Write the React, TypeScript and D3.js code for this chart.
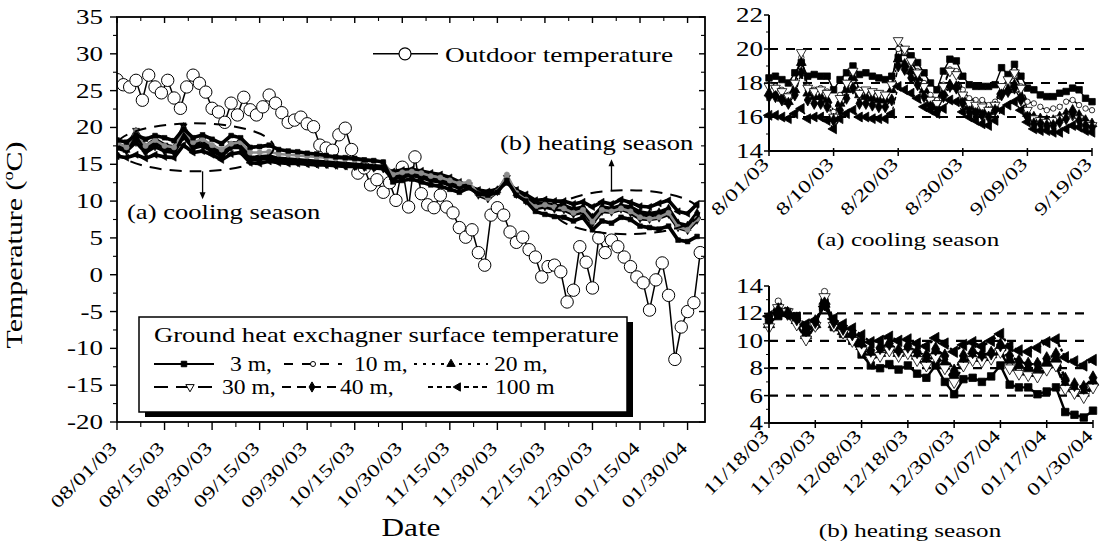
import React from 'react';
import * as d3 from 'd3';

const W = 1105;
const H = 543;
const FONT = '"Liberation Serif","Times New Roman",Times,serif';

// ---------------- Main chart data ----------------
const mainTickLabels = ['08/01/03', '08/15/03', '08/30/03', '09/15/03', '09/30/03', '10/15/03', '10/30/03', '11/15/03', '11/30/03', '12/15/03', '12/30/03', '01/15/04', '01/30/04'];
const mainYTicks = [-20, -15, -10, -5, 0, 5, 10, 15, 20, 25, 30, 35];

// outdoor temperature, one value every 2 days from 08/01/03
const outdoorTemp = [26.5, 25.8, 25.5, 26.4, 23.7, 27.1, 25.5, 24.7, 26.4, 24.0, 22.6, 25.5, 27.1, 26.0, 24.8, 22.6, 22.1, 20.7, 23.3, 21.7, 24.1, 22.4, 21.7, 22.8, 24.4, 23.3, 22.0, 20.7, 21.0, 21.4, 20.5, 20.1, 17.6, 17.2, 16.9, 19.0, 19.9, 17.0, 13.8, 14.5, 12.2, 12.9, 11.2, 12.5, 10.1, 14.6, 9.2, 16.0, 11.0, 9.5, 9.1, 10.8, 9.2, 8.4, 6.4, 5.1, 6.1, 3.0, 1.3, 8.1, 9.1, 8.1, 5.8, 4.4, 5.1, 3.4, 2.4, -0.3, 1.1, 1.3, 0.4, -3.7, -2.1, 3.8, 1.7, -1.8, 5.0, 3.0, 4.7, 3.8, 2.4, 1.1, -0.3, -1.1, -4.8, -0.7, 1.6, -2.8, -11.5, -7.1, -5.0, -3.8, 3.0];

// ground heat exchanger surface temperature, one value every 3 days from 08/01/03
const ground3m = [18.3, 18.0, 19.0, 18.4, 18.9, 18.6, 18.2, 19.8, 18.6, 19.0, 18.4, 17.8, 18.9, 18.6, 17.3, 17.4, 17.6, 17.0, 16.8, 16.7, 16.5, 16.4, 16.2, 16.0, 15.9, 15.8, 15.6, 15.5, 15.3, 12.6, 12.8, 13.0, 12.6, 12.2, 12.0, 11.6, 11.2, 11.8, 11.0, 10.8, 11.2, 12.8, 10.8, 10.0, 8.6, 8.2, 7.9, 7.8, 7.3, 7.8, 6.1, 7.3, 7.0, 7.8, 7.5, 6.6, 6.4, 6.2, 6.6, 4.7, 4.5, 5.2];
const ground10m = [17.9, 17.3, 19.5, 17.5, 18.3, 17.5, 17.3, 19.8, 18.0, 18.4, 17.6, 17.0, 17.8, 18.0, 16.6, 16.6, 16.7, 16.4, 16.3, 16.2, 16.1, 16.0, 15.9, 15.8, 15.7, 15.6, 15.5, 15.4, 15.3, 13.6, 13.9, 14.0, 13.8, 13.4, 13.2, 12.8, 12.4, 12.6, 11.0, 10.4, 11.3, 13.6, 11.1, 10.2, 9.2, 9.5, 9.2, 9.0, 8.4, 8.8, 7.2, 8.8, 8.6, 9.0, 8.6, 7.8, 7.6, 7.8, 8.4, 6.5, 6.1, 7.6];
const ground20m = [17.4, 16.9, 18.8, 17.0, 17.9, 17.2, 17.0, 19.1, 17.6, 17.7, 17.0, 16.4, 17.5, 17.5, 15.9, 16.0, 16.1, 15.8, 15.7, 15.6, 15.5, 15.4, 15.3, 15.2, 15.1, 15.0, 14.9, 14.8, 14.7, 13.2, 13.5, 13.6, 13.4, 13.0, 12.8, 12.4, 12.0, 12.1, 11.1, 10.6, 11.4, 12.9, 11.0, 10.3, 9.3, 9.4, 9.2, 9.1, 8.6, 9.0, 7.4, 8.9, 8.8, 9.3, 8.8, 8.2, 8.0, 8.2, 8.7, 6.7, 6.3, 8.0];
const ground30m = [17.8, 17.2, 19.6, 17.4, 18.4, 17.6, 17.3, 20.2, 17.8, 18.3, 17.3, 16.6, 17.8, 18.0, 15.8, 15.9, 15.9, 15.6, 15.5, 15.4, 15.3, 15.2, 15.1, 15.0, 14.9, 14.8, 14.7, 14.6, 14.5, 13.0, 13.3, 13.5, 13.2, 12.8, 12.6, 12.2, 11.8, 12.2, 10.8, 10.3, 11.3, 13.2, 10.9, 10.0, 9.0, 9.2, 8.9, 8.8, 8.2, 8.5, 7.0, 8.6, 8.5, 8.9, 8.4, 7.6, 7.5, 7.7, 8.2, 6.4, 6.0, 7.4];
const ground40m = [17.2, 16.8, 18.0, 16.6, 17.4, 16.8, 16.6, 18.8, 17.2, 17.5, 16.8, 16.1, 17.3, 17.3, 15.6, 15.7, 15.8, 15.5, 15.4, 15.3, 15.2, 15.1, 15.0, 14.9, 14.8, 14.7, 14.6, 14.5, 14.4, 13.4, 13.7, 13.8, 13.6, 13.2, 13.0, 12.6, 12.2, 12.1, 11.3, 11.0, 11.5, 12.7, 11.3, 10.5, 9.6, 9.7, 9.4, 9.4, 8.9, 9.2, 7.8, 9.2, 9.0, 9.4, 9.2, 8.5, 8.3, 8.5, 9.0, 7.0, 6.7, 8.4];
const ground100m = [16.1, 15.9, 16.3, 15.8, 16.3, 16.0, 15.9, 17.6, 16.6, 16.8, 16.3, 15.6, 16.4, 16.6, 15.2, 15.1, 15.4, 15.2, 15.1, 15.1, 15.0, 14.9, 14.9, 14.8, 14.7, 14.7, 14.6, 14.6, 14.5, 14.0, 14.2, 14.3, 14.1, 13.8, 13.6, 13.2, 12.6, 12.0, 11.5, 11.3, 11.6, 12.5, 11.5, 10.9, 10.1, 10.2, 10.0, 10.0, 9.6, 9.9, 9.2, 9.9, 9.6, 10.2, 9.8, 9.3, 9.2, 9.7, 10.1, 8.6, 8.3, 9.6];

// ---------------- (a) cooling season ----------------
const coolTickLabels = ['8/01/03', '8/10/03', '8/20/03', '8/30/03', '9/09/03', '9/19/03'];
const coolYTicks = [14, 16, 18, 20, 22];
const coolGrid = [16, 18, 20];
const cool3m = [18.3, 18.4, 18.2, 18.0, 18.6, 19.2, 18.4, 18.5, 18.4, 18.4, 17.6, 18.2, 18.6, 19.0, 18.5, 18.6, 18.4, 18.3, 18.2, 18.4, 19.5, 19.8, 19.6, 19.2, 18.6, 18.0, 17.6, 18.7, 19.4, 19.3, 18.4, 17.9, 17.8, 17.8, 17.8, 17.9, 18.9, 18.5, 19.1, 18.4, 17.7, 17.6, 17.3, 17.2, 17.2, 17.4, 17.5, 17.7, 17.6, 17.1, 16.9];
const cool10m = [17.9, 17.8, 17.6, 17.3, 18.0, 19.5, 17.8, 17.6, 17.7, 17.5, 16.3, 17.3, 18.0, 18.6, 17.6, 17.5, 17.4, 17.4, 17.3, 17.8, 20.0, 19.8, 19.2, 18.7, 18.0, 17.3, 17.0, 17.9, 18.8, 18.7, 17.6, 17.1, 17.0, 17.0, 16.7, 16.9, 17.8, 18.0, 18.4, 17.8, 16.9, 16.8, 16.6, 16.4, 16.5, 16.6, 16.9, 17.0, 16.7, 16.5, 16.4];
const cool20m = [17.4, 17.3, 17.1, 16.9, 17.6, 19.2, 17.4, 17.2, 17.2, 17.0, 15.9, 16.8, 17.6, 18.3, 17.3, 17.2, 17.1, 17.0, 17.0, 17.6, 19.4, 19.1, 18.7, 18.3, 17.6, 16.8, 16.6, 17.4, 17.9, 17.8, 17.0, 16.6, 16.4, 16.4, 16.3, 16.6, 17.5, 17.6, 17.9, 17.2, 16.2, 16.0, 15.9, 15.8, 15.8, 16.0, 16.2, 16.4, 16.1, 15.8, 15.6];
const cool30m = [17.8, 17.7, 17.5, 17.2, 18.0, 19.8, 17.7, 17.5, 17.6, 17.4, 16.0, 17.1, 18.0, 18.7, 17.4, 17.6, 17.5, 17.4, 17.3, 17.9, 20.5, 20.0, 19.3, 18.6, 17.8, 17.0, 16.8, 17.8, 18.7, 18.5, 17.3, 16.8, 16.7, 16.6, 16.4, 16.7, 17.8, 18.2, 18.6, 17.7, 16.4, 15.9, 15.8, 15.7, 15.8, 15.9, 16.0, 16.1, 15.9, 15.6, 15.5];
const cool40m = [17.2, 17.2, 17.0, 16.8, 17.3, 18.6, 17.0, 16.8, 16.8, 16.6, 15.8, 16.4, 17.1, 17.7, 16.8, 16.8, 16.7, 16.6, 16.6, 17.0, 19.0, 18.8, 18.3, 17.9, 17.2, 16.6, 16.3, 17.2, 17.8, 17.7, 16.8, 16.3, 16.2, 16.1, 16.0, 16.4, 17.3, 17.5, 17.7, 17.0, 16.0, 15.6, 15.6, 15.5, 15.5, 15.7, 15.9, 16.2, 15.8, 15.5, 15.4];
const cool100m = [16.1, 16.1, 16.0, 15.9, 16.2, 16.5, 15.9, 16.0, 16.0, 15.8, 15.3, 15.9, 16.2, 16.4, 16.0, 16.0, 15.9, 15.9, 15.9, 16.2, 17.8, 17.6, 17.4, 17.1, 16.6, 16.4, 16.2, 16.5, 17.0, 16.9, 16.3, 16.0, 15.8, 15.6, 15.5, 15.8, 16.4, 16.7, 16.9, 16.4, 15.7, 15.3, 15.2, 15.2, 15.1, 15.1, 15.3, 15.5, 15.4, 15.2, 15.1];

// ---------------- (b) heating season ----------------
const heatTickLabels = ['11/18/03', '11/30/03', '12/08/03', '12/18/03', '12/30/03', '01/07/04', '01/17/04', '01/30/04'];
const heatYTicks = [4, 6, 8, 10, 12, 14];
const heatGrid = [6, 8, 10, 12];
const heat3m = [11.3, 11.8, 12.1, 11.8, 10.6, 11.2, 12.8, 11.0, 10.5, 10.0, 9.0, 8.2, 8.0, 8.3, 7.9, 8.2, 7.6, 7.3, 8.2, 7.0, 6.1, 7.2, 7.3, 7.0, 7.4, 8.2, 6.8, 6.6, 6.6, 6.1, 6.3, 6.6, 4.8, 4.6, 4.4, 4.9];
const heat10m = [11.5, 12.9, 12.2, 11.4, 10.2, 11.0, 13.6, 11.3, 10.8, 10.2, 9.5, 8.9, 9.2, 9.6, 9.2, 9.3, 8.8, 8.4, 9.0, 8.2, 7.2, 8.4, 8.8, 8.6, 8.8, 9.3, 8.2, 7.8, 7.6, 7.5, 8.0, 8.4, 6.6, 6.3, 6.0, 6.8];
const heat20m = [11.2, 12.3, 12.0, 11.5, 10.4, 11.2, 12.9, 11.2, 10.7, 10.3, 9.6, 9.0, 9.1, 9.5, 9.1, 9.4, 8.9, 8.6, 9.2, 8.4, 7.4, 8.6, 8.9, 8.8, 9.0, 9.6, 8.6, 8.2, 8.0, 7.9, 8.4, 8.7, 6.8, 6.5, 6.2, 7.0];
const heat30m = [11.0, 12.4, 12.1, 11.2, 10.1, 11.1, 13.2, 11.1, 10.6, 10.0, 9.3, 8.7, 8.9, 9.3, 8.9, 9.1, 8.6, 8.2, 8.8, 8.0, 7.0, 8.2, 8.6, 8.5, 8.7, 9.2, 8.0, 7.6, 7.5, 7.4, 7.9, 8.2, 6.5, 6.2, 5.9, 6.6];
const heat40m = [11.6, 12.2, 12.0, 11.6, 10.8, 11.4, 12.7, 11.4, 10.9, 10.5, 9.9, 9.3, 9.5, 9.8, 9.3, 9.6, 9.2, 8.9, 9.4, 8.9, 7.8, 8.9, 9.2, 9.0, 9.1, 9.7, 8.9, 8.5, 8.3, 8.3, 8.7, 9.0, 7.2, 6.8, 6.6, 7.3];
const heat100m = [11.8, 12.0, 11.9, 11.7, 11.2, 11.5, 12.5, 11.6, 11.2, 10.9, 10.4, 9.9, 10.0, 10.3, 10.0, 10.1, 9.8, 9.6, 10.2, 9.8, 9.2, 9.7, 9.9, 9.6, 10.0, 10.5, 9.6, 9.3, 9.2, 9.5, 9.9, 10.1, 8.8, 8.5, 8.2, 8.6];

// ---------------- series styles ----------------
type St = { label: string; sym: any; rot: number; filled: boolean; dash: string; legDash: string };
const STYLES: St[] = [
  { label: '3 m,', sym: d3.symbolSquare, rot: 0, filled: true, dash: '', legDash: '' },
  { label: '10 m,', sym: d3.symbolCircle, rot: 0, filled: false, dash: '6 4', legDash: '9 9' },
  { label: '20 m,', sym: d3.symbolTriangle, rot: 0, filled: true, dash: '2 3', legDash: '3 6' },
  { label: '30 m,', sym: d3.symbolTriangle, rot: 180, filled: false, dash: '9 3', legDash: '14 8' },
  { label: '40 m,', sym: d3.symbolDiamond, rot: 0, filled: true, dash: '5 3', legDash: '9 6' },
  { label: '100 m', sym: d3.symbolTriangle, rot: -90, filled: true, dash: '3 2', legDash: '5 4' },
];

function Txt({ x, y, size, sx = 1.33, anchor = 'start', rot = 0, children }: any) {
  return (
    <text transform={`translate(${x},${y}) rotate(${rot}) scale(${sx},1)`} fontSize={size} textAnchor={anchor} fontFamily={FONT} fill="#000">
      {children}
    </text>
  );
}

function Marker({ x, y, st, size, sw = 0.8 }: any) {
  const d = d3.symbol().type(st.sym).size(size)() || '';
  return <path d={d} transform={`translate(${x},${y}) rotate(${st.rot})`} fill={st.filled ? '#000' : '#fff'} stroke="#000" strokeWidth={sw} />;
}

function SmallChart({ series, xS, yS, yTicks, grid, labels, labelStep, caption, capX, capY, msize, lw }: any) {
  const [x0, x1] = xS.range();
  const [yb, yt] = yS.range();
  const [lo, hi] = yS.domain();
  const minor = d3.range(lo + 1, hi, 2);
  const lastIdx = series[0].length - 1;
  return (
    <g>
      {grid.map((g: number) => (
        <line key={'g' + g} x1={xS(0)} x2={xS(lastIdx - 0.5)} y1={yS(g)} y2={yS(g)} stroke="#000" strokeWidth={2.2} strokeDasharray="9 8" />
      ))}
      {series.map((vals: number[], si: number) => {
        const line = d3.line<number>().x((_, i) => xS(i)).y((v) => yS(v));
        return <path key={'l' + si} d={line(vals) || ''} fill="none" stroke="#000" strokeWidth={lw} strokeDasharray={STYLES[si].dash} />;
      })}
      {series.map((vals: number[], si: number) => (
        <g key={'m' + si}>
          {vals.map((v, i) => (
            <Marker key={i} x={xS(i)} y={yS(v)} st={STYLES[si]} size={STYLES[si].sym === d3.symbolCircle ? msize * 0.55 : msize} />
          ))}
        </g>
      ))}
      <line x1={x0} x2={x0} y1={yb + 1} y2={yt} stroke="#000" strokeWidth={2} />
      <line x1={x0 - 1} x2={x1} y1={yb} y2={yb} stroke="#000" strokeWidth={2} />
      {yTicks.map((t: number) => (
        <g key={'yt' + t}>
          <line x1={x0 - 5} x2={x0} y1={yS(t)} y2={yS(t)} stroke="#000" strokeWidth={1.5} />
          <Txt x={x0 - 6} y={yS(t) + 7} size={20} sx={1.35} anchor="end">{String(t)}</Txt>
        </g>
      ))}
      {minor.map((t: number) => (
        <line key={'ym' + t} x1={x0 - 3} x2={x0} y1={yS(t)} y2={yS(t)} stroke="#000" strokeWidth={1} />
      ))}
      {labels.map((lab: string, k: number) => (
        <g key={'xt' + k}>
          <line x1={xS(k * labelStep)} x2={xS(k * labelStep)} y1={yb - 3} y2={yb + 5} stroke="#000" strokeWidth={1.5} />
          <Txt x={xS(k * labelStep) + 1} y={yb + 14} size={18} sx={1.33} anchor="end" rot={-45}>{lab}</Txt>
        </g>
      ))}
      <Txt x={capX} y={capY} size={19} sx={1.32} anchor="middle">{caption}</Txt>
    </g>
  );
}

export default function App() {
  // main chart scales
  const xM = d3.scaleLinear().domain([0, 185.5]).range([117, 705]);
  const yM = d3.scaleLinear().domain([-20, 35]).range([422, 17]);
  const [mx0, mx1] = xM.range();
  const [my0, my1] = yM.range();
  const majorX = mainTickLabels.map((_, k) => k * 15);
  const minorX = d3.range(0, 12).map((k) => k * 15 + 7.5);
  const minorY = d3.range(-17.5, 35, 5);

  const groundSeries = [ground3m, ground10m, ground20m, ground30m, ground40m, ground100m];
  const drawOrder = [5, 4, 3, 2, 1, 0];
  const outdoorLine = d3.line<number>().x((_, i) => xM(i * 2)).y((v) => yM(v));

  // small charts scales
  const xC = d3.scaleLinear().domain([0, 50]).range([769, 1092]);
  const yC = d3.scaleLinear().domain([14, 22]).range([151, 15]);
  const xHt = d3.scaleLinear().domain([0, 35]).range([769, 1093]);
  const yHt = d3.scaleLinear().domain([4, 14]).range([423, 286]);

  // annotation geometry anchored to data scales
  const ellA = { cx: xM(24.5), cy: yM(17.3), rx: xM(25) - xM(0), ry: 24 };
  const ellB = { cx: xM(161), cy: yM(8.5), rx: xM(22.7) - xM(0), ry: 22 };
  const arrA = xM(27);
  const arrB = xM(156);

  const legendItems = [
    { si: 0, a: 154, b: 214, m: 184, tx: 230, y: 364 },
    { si: 1, a: 284, b: 342, m: 313, tx: 354, y: 364 },
    { si: 2, a: 414, b: 488, m: 451, tx: 494, y: 364 },
    { si: 3, a: 154, b: 214, m: 190, tx: 222, y: 387 },
    { si: 4, a: 282, b: 336, m: 312, tx: 340, y: 387 },
    { si: 5, a: 428, b: 490, m: 458, tx: 495, y: 387 },
  ];

  return (
    <svg width={W} height={H} viewBox={`0 0 ${W} ${H}`} style={{ position: 'absolute', left: 0, top: 0, background: '#fff' }}>
      <defs>
        <clipPath id="mainClip">
          <rect x={mx0} y={my1} width={mx1 - mx0} height={my0 - my1} />
        </clipPath>
      </defs>
      <rect x={0} y={0} width={W} height={H} fill="#fff" />

      {/* ---------- main chart data ---------- */}
      <g clipPath="url(#mainClip)">
        <path d={outdoorLine(outdoorTemp) || ''} fill="none" stroke="#000" strokeWidth={1.5} />
        {outdoorTemp.map((v, i) => (
          <circle key={'o' + i} cx={xM(i * 2)} cy={yM(v)} r={6.2} fill="#fff" stroke="#000" strokeWidth={1} />
        ))}
        {drawOrder.map((si) => {
          const vals = groundSeries[si];
          const line = d3.line<number>().x((_, i) => xM(i * 3)).y((v) => yM(v));
          const col = si === 1 ? '#8c8c8c' : '#000';
          return (
            <g key={'gs' + si}>
              <path d={line(vals) || ''} fill="none" stroke={col} strokeWidth={si === 1 ? 2.6 : 3.6} />
              {vals.map((v, i) => (
                <path key={i} d={d3.symbol().type(STYLES[si].sym).size(22)() || ''} transform={`translate(${xM(i * 3)},${yM(v)}) rotate(${STYLES[si].rot})`} fill={col} stroke={col} strokeWidth={0.6} />
              ))}
            </g>
          );
        })}
        {/* season ellipses */}
        <ellipse cx={ellA.cx} cy={ellA.cy} rx={ellA.rx} ry={ellA.ry} fill="none" stroke="#000" strokeWidth={2} strokeDasharray="12 8" />
        <ellipse cx={ellB.cx} cy={ellB.cy} rx={ellB.rx} ry={ellB.ry} fill="none" stroke="#000" strokeWidth={2} strokeDasharray="12 8" />
      </g>

      {/* arrows */}
      <line x1={arrA} x2={arrA} y1={ellA.cy + ellA.ry} y2={ellA.cy + ellA.ry + 24} stroke="#000" strokeWidth={1.3} />
      <path d={`M${arrA - 3},${ellA.cy + ellA.ry + 21} L${arrA + 3},${ellA.cy + ellA.ry + 21} L${arrA},${ellA.cy + ellA.ry + 28} Z`} fill="#000" />
      <line x1={arrB} x2={arrB} y1={ellB.cy - ellB.ry} y2={ellB.cy - ellB.ry - 27} stroke="#000" strokeWidth={1.3} />
      <path d={`M${arrB - 3},${ellB.cy - ellB.ry - 24} L${arrB + 3},${ellB.cy - ellB.ry - 24} L${arrB},${ellB.cy - ellB.ry - 31} Z`} fill="#000" />
      <Txt x={127} y={219} size={20} sx={1.33}>(a) cooling season</Txt>
      <Txt x={500} y={150} size={20} sx={1.33}>(b) heating season</Txt>

      {/* main frame and ticks */}
      <rect x={mx0} y={my1} width={mx1 - mx0} height={my0 - my1} fill="none" stroke="#000" strokeWidth={1.8} />
      {mainYTicks.map((t) => (
        <g key={'my' + t}>
          <line x1={mx0 - 7} x2={mx0} y1={yM(t)} y2={yM(t)} stroke="#000" strokeWidth={1.4} />
          <line x1={mx1 - 6} x2={mx1} y1={yM(t)} y2={yM(t)} stroke="#000" strokeWidth={1.4} />
          <Txt x={103} y={yM(t) + 7} size={20} sx={1.35} anchor="end">{String(t)}</Txt>
        </g>
      ))}
      {minorY.map((t) => (
        <g key={'mym' + t}>
          <line x1={mx0 - 4} x2={mx0} y1={yM(t)} y2={yM(t)} stroke="#000" strokeWidth={1.1} />
          <line x1={mx1 - 4} x2={mx1} y1={yM(t)} y2={yM(t)} stroke="#000" strokeWidth={1.1} />
        </g>
      ))}
      {majorX.map((d, k) => (
        <g key={'mx' + k}>
          <line x1={xM(d)} x2={xM(d)} y1={my0} y2={my0 + 8} stroke="#000" strokeWidth={1.4} />
          <line x1={xM(d)} x2={xM(d)} y1={my1} y2={my1 + 6} stroke="#000" strokeWidth={1.4} />
          <Txt x={xM(d) + 1} y={my0 + 27} size={18} sx={1.33} anchor="end" rot={-45}>{mainTickLabels[k]}</Txt>
        </g>
      ))}
      {minorX.map((d, k) => (
        <g key={'mxm' + k}>
          <line x1={xM(d)} x2={xM(d)} y1={my0} y2={my0 + 5} stroke="#000" strokeWidth={1.1} />
          <line x1={xM(d)} x2={xM(d)} y1={my1} y2={my1 + 4} stroke="#000" strokeWidth={1.1} />
        </g>
      ))}

      {/* axis titles */}
      <text transform={`translate(22,245) rotate(-90) scale(1.3,1)`} fontSize={23} textAnchor="middle" fontFamily={FONT}>
        Temperature (<tspan dy={-9} fontSize={14}>o</tspan><tspan dy={9}>C)</tspan>
      </text>
      <Txt x={411} y={536} size={25} sx={1.25} anchor="middle">Date</Txt>

      {/* outdoor legend */}
      <line x1={373} x2={438} y1={yM(30)} y2={yM(30)} stroke="#000" strokeWidth={1.6} />
      <circle cx={405} cy={yM(30)} r={6} fill="#fff" stroke="#000" strokeWidth={1.2} />
      <Txt x={445} y={yM(30) + 8} size={21} sx={1.3}>Outdoor temperature</Txt>

      {/* ground legend box */}
      <rect x={145} y={322} width={488} height={95} fill="#000" />
      <rect x={139} y={317} width={488} height={95} fill="#fff" stroke="#000" strokeWidth={1.5} />
      <Txt x={154} y={342} size={20} sx={1.33}>Ground heat exchagner surface temperature</Txt>
      {legendItems.map((it) => (
        <g key={'lg' + it.si}>
          <line x1={it.a} x2={it.b} y1={it.y} y2={it.y} stroke="#000" strokeWidth={1.8} strokeDasharray={STYLES[it.si].legDash} />
          <Marker x={it.m} y={it.y} st={STYLES[it.si]} size={STYLES[it.si].sym === d3.symbolCircle ? 20 : 30} sw={1} />
          <Txt x={it.tx} y={it.y + 7} size={20} sx={1.18}>{STYLES[it.si].label}</Txt>
        </g>
      ))}

      {/* (a) cooling season */}
      <SmallChart
        series={[cool3m, cool10m, cool20m, cool30m, cool40m, cool100m]}
        xS={xC}
        yS={yC}
        yTicks={coolYTicks}
        grid={coolGrid}
        labels={coolTickLabels}
        labelStep={10}
        caption="(a) cooling season"
        capX={908}
        capY={246}
        msize={42}
        lw={1.4}
      />
      {/* (b) heating season */}
      <SmallChart
        series={[heat3m, heat10m, heat20m, heat30m, heat40m, heat100m]}
        xS={xHt}
        yS={yHt}
        yTicks={heatYTicks}
        grid={heatGrid}
        labels={heatTickLabels}
        labelStep={5}
        caption="(b) heating season"
        capX={910}
        capY={537}
        msize={56}
        lw={2.4}
      />
    </svg>
  );
}
